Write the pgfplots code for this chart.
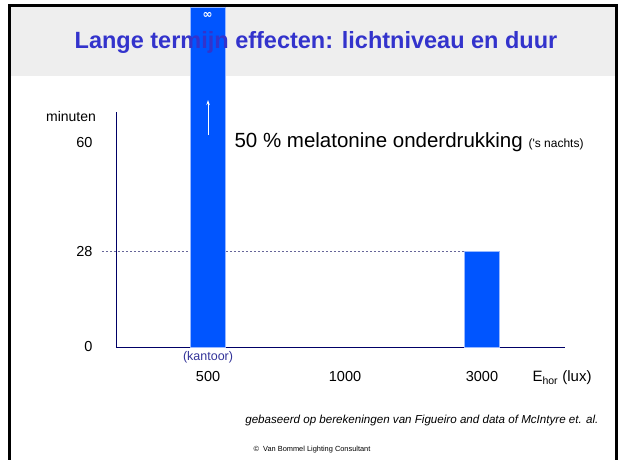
\documentclass[border=0pt]{standalone}
\usepackage{pgfplots}
\pgfplotsset{compat=1.18}
\usepackage{fontspec}
\setmainfont{Liberation Sans}
\newfontfamily\dejavu{DejaVu Sans}
\usetikzlibrary{arrows.meta}
\definecolor{barblue}{HTML}{0055FF}
\definecolor{baredge}{HTML}{99B8FF}
\definecolor{titleblue}{HTML}{3333CC}
\definecolor{axisnavy}{HTML}{000066}
\definecolor{dashgray}{HTML}{666699}
\definecolor{bandgray}{HTML}{EEEEEE}
\definecolor{kantoor}{HTML}{333399}
\begin{document}
\begin{tikzpicture}[x=1pt,y=1pt]
\useasboundingbox (0,0) rectangle (621,459);
\fill[white] (0,0) rectangle (621,459);
\fill[bandgray] (10,383) rectangle (616,453);
\begin{axis}[at={(116pt,112pt)}, anchor=south west, scale only axis,
  width=449pt, height=235pt,
  xmin=-0.672, xmax=2.606, ymin=0, ymax=69, clip=false,
  axis x line*=bottom, axis y line*=left,
  axis line style={axisnavy, line width=1pt, -},
  xtick={0,1,2}, xticklabels={500,1000,3000}, ytick={0,28,60},
  major tick length=0pt,
  tick label style={font=\fontsize{14.5}{16}\selectfont},
  xticklabel style={yshift=-21pt},
  yticklabel style={xshift=-20pt},
  /pgf/number format/assume math mode=true,
]
\addplot[dashgray, line width=0.6pt, dash pattern=on 2.5pt off 1.5pt] coordinates {(-0.776,28) (1.869,28)};
\addplot[ybar, bar width=35pt, fill=barblue, draw=baredge, line width=0.8pt] coordinates {(0,99.8) (2,28)};
\draw[white, line width=0.8pt, -{Stealth[length=5pt,width=3.5pt]}] (axis cs:0,62.2) -- (axis cs:0,72.5);
\node[kantoor, font=\fontsize{12.5}{14}\selectfont, anchor=north, yshift=-1pt] at (axis cs:0,0) {(kantoor)};
\end{axis}
\node[titleblue, font=\bfseries\fontsize{23.5}{26}\selectfont] at (316,417) {Lange termijn effecten: lichtniveau en duur};
\node[white, font=\dejavu\bfseries\fontsize{12}{12}\selectfont] at (207.5,444) {∞};
\node[font=\fontsize{14}{16}\selectfont] at (71,343) {minuten};
\node[anchor=west, font=\fontsize{20.5}{23}\selectfont] at (231,317) {50 \% melatonine onderdrukking {\fontsize{12}{14}\selectfont(\textquotesingle s nachts)}};
\node[font=\fontsize{15}{17}\selectfont] at (562,81) {E\textsubscript{hor} (lux)};
\node[anchor=east, font=\itshape\fontsize{11.6}{13}\selectfont] at (602,39) {gebaseerd op berekeningen van Figueiro and data of McIntyre et. al.};
\node[font=\fontsize{7.4}{9}\selectfont] at (312,9) {\textcopyright\ \ Van Bommel Lighting Consultant};
\draw[black, line width=2.5pt] (9.5,453.5) rectangle (616.5,-20);
\end{tikzpicture}
\end{document}
